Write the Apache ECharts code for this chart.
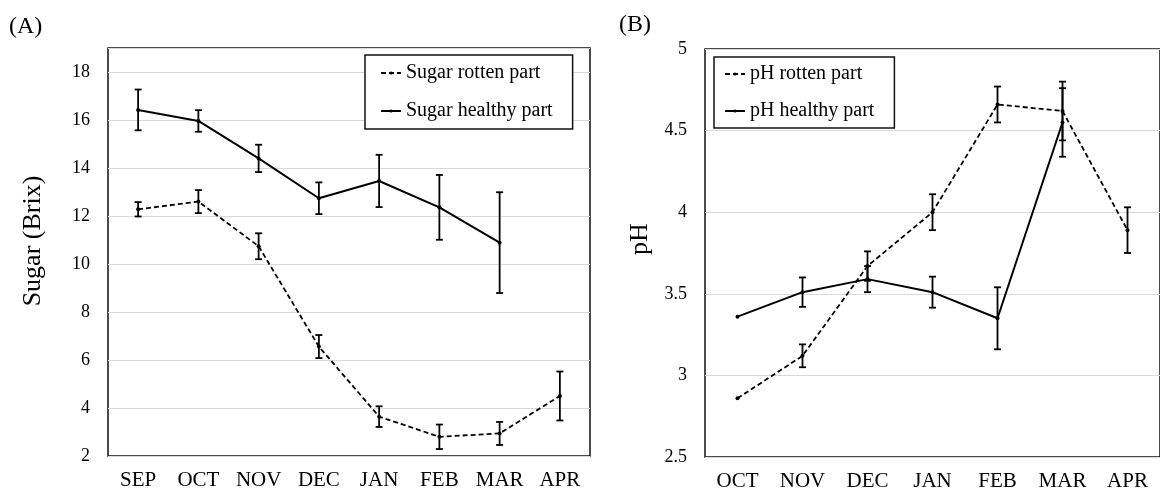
<!DOCTYPE html>
<html>
<head>
<meta charset="utf-8">
<script src="https://cdn.jsdelivr.net/npm/echarts@6/dist/echarts.min.js"></script>
<style>
  html, body { margin: 0; padding: 0; background: #fff; }
  #chart { width: 1160px; height: 500px; }
</style>
</head>
<body>
<div id="chart"></div>
<script>
// panel A: sugar
const sugarMonths = ['SEP', 'OCT', 'NOV', 'DEC', 'JAN', 'FEB', 'MAR', 'APR']
const sugarRotten = [12.28, 12.6, 10.74, 6.56, 3.64, 2.8, 2.94, 4.5]
const sugarRottenErr = [0.3, 0.48, 0.54, 0.48, 0.43, 0.51, 0.48, 1.02]
const sugarHealthy = [16.42, 15.96, 14.4, 12.74, 13.46, 12.36, 10.89, null]
const sugarHealthyErr = [0.85, 0.45, 0.57, 0.66, 1.09, 1.35, 2.1, null]
const sugarTicks = [2, 4, 6, 8, 10, 12, 14, 16, 18]

// panel B: pH
const phMonths = ['OCT', 'NOV', 'DEC', 'JAN', 'FEB', 'MAR', 'APR']
const phRotten = [2.86, 3.12, 3.67, 4.0, 4.66, 4.62, 3.89]
const phRottenErr = [0, 0.07, 0.09, 0.11, 0.11, 0.18, 0.14]
const phHealthy = [3.36, 3.51, 3.59, 3.51, 3.35, 4.55, null]
const phHealthyErr = [0, 0.09, 0.08, 0.095, 0.19, 0.21, null]

const FONT = 'Liberation Serif'

function errData(values, errs) {
  return values
    .map((v, i) => (v == null || !errs[i]) ? null : [i, v - errs[i], v + errs[i]])
    .filter(Boolean)
}

function renderErr(params, api) {
  const x = api.value(0)
  const top = api.coord([x, api.value(2)])
  const bot = api.coord([x, api.value(1)])
  const w = 3.5
  const style = { stroke: '#000', lineWidth: 1.8 }
  return {
    type: 'group',
    children: [
      { type: 'line', shape: { x1: top[0], y1: top[1], x2: bot[0], y2: bot[1] }, style },
      { type: 'line', shape: { x1: top[0] - w, y1: top[1], x2: top[0] + w, y2: top[1] }, style },
      { type: 'line', shape: { x1: bot[0] - w, y1: bot[1], x2: bot[0] + w, y2: bot[1] }, style }
    ]
  }
}

function errSeries(idx, values, errs) {
  return {
    type: 'custom',
    xAxisIndex: idx,
    yAxisIndex: idx,
    renderItem: renderErr,
    encode: { x: 0, y: [1, 2] },
    data: errData(values, errs),
    silent: true,
    z: 3
  }
}

function lineSeries(idx, name, values, dashed) {
  return {
    name,
    type: 'line',
    xAxisIndex: idx,
    yAxisIndex: idx,
    data: values,
    symbol: 'circle',
    symbolSize: 4,
    showSymbol: true,
    connectNulls: false,
    itemStyle: { color: '#000' },
    lineStyle: { color: '#000', width: dashed ? 1.8 : 2, type: dashed ? [5, 3] : 'solid' },
    z: 4
  }
}

const chart = echarts.init(document.getElementById('chart'), null, { renderer: 'canvas' })

const xLabel = { fontFamily: FONT, fontSize: 21, color: '#000', margin: 14, interval: 0 }
const yLabel = { fontFamily: FONT, fontSize: 18, color: '#000', margin: 18 }
const splitLine = { show: true, lineStyle: { color: '#d9d9d9', width: 1 } }

const legendBase = {
  orient: 'vertical',
  itemWidth: 20,
  itemHeight: 4,
  borderColor: '#111',
  borderWidth: 1.5,
  backgroundColor: '#fff',
  textStyle: { fontFamily: FONT, fontSize: 20, color: '#000', lineHeight: 20 }
}

chart.setOption({
  backgroundColor: '#fff',
  animation: false,
  title: [
    { text: '(A)', left: 4, top: 10, textStyle: { fontFamily: FONT, fontSize: 24, fontWeight: 'normal', color: '#000' } },
    { text: '(B)', left: 614, top: 8, textStyle: { fontFamily: FONT, fontSize: 24, fontWeight: 'normal', color: '#000' } }
  ],
  grid: [
    { left: 108, top: 48, width: 482, height: 408, show: true, borderColor: '#111', borderWidth: 1.5, backgroundColor: 'transparent' },
    { left: 705, top: 49, width: 458, height: 408, show: true, borderColor: '#111', borderWidth: 1.5, backgroundColor: 'transparent' }
  ],
  legend: [
    Object.assign({}, legendBase, {
      data: ['Sugar rotten part', 'Sugar healthy part'],
      left: 365,
      top: 55,
      padding: [8, 20, 8, 15],
      itemGap: 18
    }),
    Object.assign({}, legendBase, {
      data: ['pH rotten part', 'pH healthy part'],
      left: 714,
      top: 57,
      padding: [7, 20, 7, 10],
      itemGap: 17
    })
  ],
  xAxis: [
    {
      type: 'category', gridIndex: 0, data: sugarMonths, boundaryGap: true,
      axisLine: { show: false }, axisTick: { show: false }, axisLabel: xLabel
    },
    {
      type: 'category', gridIndex: 1, data: phMonths, boundaryGap: true,
      axisLine: { show: false }, axisTick: { show: false }, axisLabel: xLabel
    }
  ],
  yAxis: [
    {
      type: 'value', gridIndex: 0, min: 2, max: 19, interval: 2,
      name: 'Sugar (Brix)', nameLocation: 'middle', nameGap: 62,
      nameTextStyle: { fontFamily: FONT, fontSize: 26, color: '#000', padding: [0, 0, 0, 22] },
      axisLine: { show: false }, axisTick: { show: false },
      axisLabel: Object.assign({}, yLabel, {
        formatter: v => sugarTicks.includes(v) ? String(v) : ''
      }),
      splitLine
    },
    {
      type: 'value', gridIndex: 1, min: 2.5, max: 5, interval: 0.5,
      name: 'pH', nameLocation: 'middle', nameGap: 52,
      nameTextStyle: { fontFamily: FONT, fontSize: 26, color: '#000', padding: [0, 0, 0, 28] },
      axisLine: { show: false }, axisTick: { show: false },
      axisLabel: yLabel,
      splitLine
    }
  ],
  series: [
    lineSeries(0, 'Sugar rotten part', sugarRotten, true),
    lineSeries(0, 'Sugar healthy part', sugarHealthy, false),
    errSeries(0, sugarRotten, sugarRottenErr),
    errSeries(0, sugarHealthy, sugarHealthyErr),
    lineSeries(1, 'pH rotten part', phRotten, true),
    lineSeries(1, 'pH healthy part', phHealthy, false),
    errSeries(1, phRotten, phRottenErr),
    errSeries(1, phHealthy, phHealthyErr)
  ]
})
</script>
</body>
</html>
